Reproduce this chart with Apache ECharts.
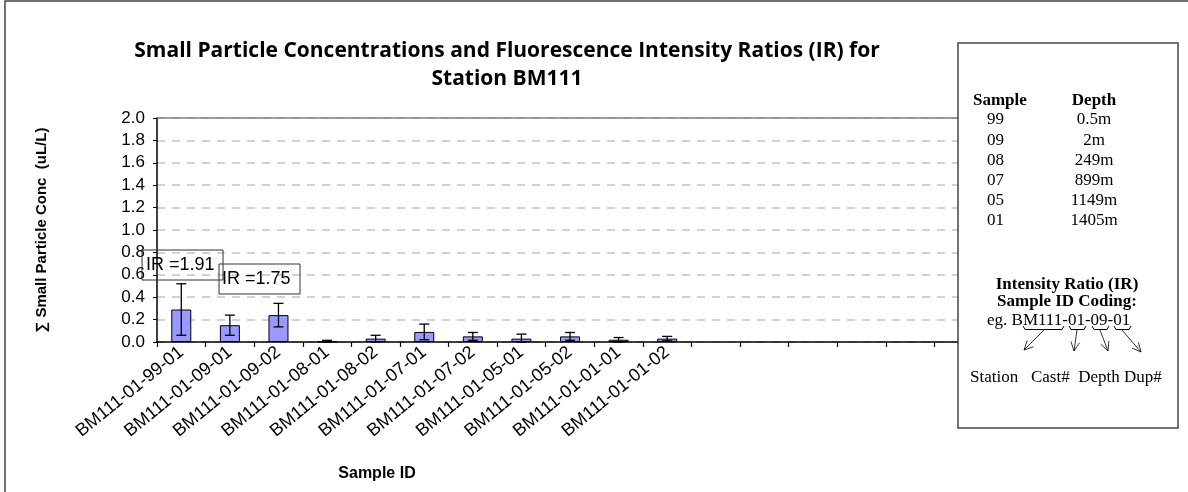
<!DOCTYPE html>
<html><head><meta charset="utf-8">
<script src="https://cdn.jsdelivr.net/npm/echarts@6/dist/echarts.min.js"></script>
<style>html,body{margin:0;padding:0;background:#fff}#c{width:1188px;height:492px}</style>
</head><body><div id="c"></div>
<script>
const categories = ['BM111-01-99-01','BM111-01-09-01','BM111-01-09-02','BM111-01-08-01','BM111-01-08-02','BM111-01-07-01','BM111-01-07-02','BM111-01-05-01','BM111-01-05-02','BM111-01-01-01','BM111-01-01-02','','','','','',''];
const concValues = [0.29, 0.15, 0.24, 0.005, 0.03, 0.09, 0.05, 0.03, 0.05, 0.02, 0.03];
const errValues  = [0.23, 0.09, 0.105, 0.01, 0.03, 0.07, 0.035, 0.04, 0.035, 0.02, 0.02];
const yMin = 0, yMax = 2.0, yStep = 0.2;
const irLabels = ['IR =1.91', 'IR =1.75'];
const sampleCodes = ['99','09','08','07','05','01'];
const sampleDepths = ['0.5m','2m','249m','899m','1149m','1405m'];
const titleLines = ['Small Particle Concentrations and Fluorescence Intensity Ratios (IR) for', 'Station BM111'];
const yName = '\u2211 Small Particle Conc  (uL/L)';
const xName = 'Sample ID';

const errData = concValues.map((v, i) => [i, Math.max(0, v - errValues[i]), v + errValues[i]]);

const chart = echarts.init(document.getElementById('c'), null, {renderer: 'canvas'});
const SANS = '"Liberation Sans", Arial, sans-serif';
const SERIF = '"Liberation Serif", "Times New Roman", serif';
const PZ = 200;

const rowY = [120, 140.5, 160.5, 180.5, 200.5, 220.5];
const panelChildren = [
  {type:'rect', z:PZ, shape:{x:958, y:43, width:220, height:385}, style:{fill:'#fff', stroke:'#444', lineWidth:1.5}},
  {type:'text', z:PZ+1, x:973, y:101, style:{text:'Sample', font:'bold 17px '+SERIF, fill:'#000', textVerticalAlign:'middle'}},
  {type:'text', z:PZ+1, x:1094, y:101, style:{text:'Depth', font:'bold 17px '+SERIF, fill:'#000', textAlign:'center', textVerticalAlign:'middle'}}
];
sampleCodes.forEach((s, i) => {
  panelChildren.push({type:'text', z:PZ+1, x:987, y:rowY[i], style:{text:s, font:'17px '+SERIF, fill:'#000', textVerticalAlign:'middle'}});
  panelChildren.push({type:'text', z:PZ+1, x:1094, y:rowY[i], style:{text:sampleDepths[i], font:'17px '+SERIF, fill:'#000', textAlign:'center', textVerticalAlign:'middle'}});
});
panelChildren.push(
  {type:'text', z:PZ+1, x:1067, y:285, style:{text:'Intensity Ratio (IR)', font:'bold 17px '+SERIF, fill:'#000', textAlign:'center', textVerticalAlign:'middle'}},
  {type:'text', z:PZ+1, x:1067, y:302, style:{text:'Sample ID Coding:', font:'bold 17px '+SERIF, fill:'#000', textAlign:'center', textVerticalAlign:'middle'}},
  {type:'text', z:PZ+1, x:987, y:321, style:{text:'eg. BM111-01-09-01', font:'17px '+SERIF, fill:'#000', textVerticalAlign:'middle'}},
  {type:'text', z:PZ+1, x:970, y:378, style:{text:'Station   Cast#  Depth Dup#', font:'17px '+SERIF, fill:'#000', textVerticalAlign:'middle'}}
);
const braces = [[1023,1064],[1069,1086],[1092,1109],[1114,1131]];
braces.forEach(b => {
  panelChildren.push({type:'polyline', z:PZ+1, shape:{points:[[b[0],326],[b[0]+2,329.5],[b[1]-2,329.5],[b[1],326]]}, style:{stroke:'#000', lineWidth:1, fill:null}});
});
const arrows = [[[1044,330],[1024,350]], [[1077,330],[1074,351]], [[1100,330],[1108,351]], [[1122,330],[1141,352]]];
arrows.forEach(a => {
  const [A, B] = a;
  const ang = Math.atan2(B[1]-A[1], B[0]-A[0]);
  const L = 10, s = 0.45;
  const h1 = [B[0] - L*Math.cos(ang - s), B[1] - L*Math.sin(ang - s)];
  const h2 = [B[0] - L*Math.cos(ang + s), B[1] - L*Math.sin(ang + s)];
  panelChildren.push({type:'polyline', z:PZ+1, shape:{points:[A, B]}, style:{stroke:'#000', lineWidth:0.8, fill:null}});
  panelChildren.push({type:'polyline', z:PZ+1, shape:{points:[h1, B, h2]}, style:{stroke:'#000', lineWidth:0.8, fill:null}});
});

const option = {
  animation: false,
  backgroundColor: '#fff',
  title: [{
    text: titleLines.join('\n'),
    left: 502, top: 32, textAlign: 'center',
    textStyle: {fontFamily: '"Open Sans", sans-serif', fontWeight: 'bold', fontSize: 21, color: '#000', lineHeight: 28}
  }, {
    text: xName, left: 372, top: 461, textAlign: 'center',
    textStyle: {fontFamily: SANS, fontWeight: 'bold', fontSize: 16, color: '#000'}
  }],
  grid: {left: 157, top: 118, width: 826, height: 224, containLabel: false},
  xAxis: [{
    type: 'category', data: categories, position: 'bottom',
    axisLine: {lineStyle: {color: '#000', width: 1.5}},
    axisTick: {show: true, interval: 0, length: 5, lineStyle: {color: '#000', width: 1.2}},
    axisLabel: {interval: 0, rotate: 39, margin: 8, fontFamily: SANS, fontSize: 18, color: '#000'},
    splitLine: {show: false}
  }, {
    type: 'category', data: categories, position: 'top',
    axisLine: {show: true, lineStyle: {color: '#808080', width: 1.5}},
    axisTick: {show: false}, axisLabel: {show: false}, splitLine: {show: false}
  }],
  yAxis: {
    type: 'value', min: yMin, max: yMax, interval: yStep,
    name: yName, nameLocation: 'middle', nameGap: 108, nameRotate: 90,
    nameTextStyle: {fontFamily: SANS, fontWeight: 'bold', fontSize: 15, color: '#000'},
    axisLine: {show: true, lineStyle: {color: '#000', width: 1.5}},
    axisTick: {show: true, length: 4, lineStyle: {color: '#000'}},
    axisLabel: {formatter: v => v.toFixed(1), fontFamily: SANS, fontSize: 17, color: '#000', margin: 12},
    splitLine: {show: true, lineStyle: {color: '#c4c4c4', type: [8, 7], width: 1.5}}
  },
  series: [{
    type: 'bar', data: concValues, barWidth: 20, xAxisIndex: 0,
    itemStyle: {color: '#9999ff', borderColor: '#000', borderWidth: 1}, z: 2
  }, {
    type: 'custom', xAxisIndex: 0, data: errData, z: 3,
    renderItem: function (params, api) {
      const x = api.value(0);
      const lo = api.coord([x, api.value(1)]);
      const hi = api.coord([x, api.value(2)]);
      const w = 5;
      const st = {stroke: '#000', lineWidth: 1.3};
      return {type: 'group', children: [
        {type: 'line', shape: {x1: lo[0], y1: lo[1], x2: hi[0], y2: hi[1]}, style: st},
        {type: 'line', shape: {x1: hi[0]-w, y1: hi[1], x2: hi[0]+w, y2: hi[1]}, style: st},
        {type: 'line', shape: {x1: lo[0]-w, y1: lo[1], x2: lo[0]+w, y2: lo[1]}, style: st}
      ]};
    }
  }],
  graphic: [
    {type: 'rect', z: 100, shape: {x: 5, y: 1, width: 1200, height: 520}, style: {fill: null, stroke: '#444', lineWidth: 1.5}},
    {type: 'rect', z: 100, shape: {x: 142, y: 250, width: 81, height: 30}, style: {fill: 'rgba(255,255,255,0)', stroke: '#333', lineWidth: 1}},
    {type: 'text', z: 101, x: 146, y: 265, style: {text: irLabels[0], font: '18px '+SANS, fill: '#000', textVerticalAlign: 'middle'}},
    {type: 'rect', z: 100, shape: {x: 219, y: 264, width: 81, height: 30}, style: {fill: 'rgba(255,255,255,0)', stroke: '#333', lineWidth: 1}},
    {type: 'text', z: 101, x: 222, y: 279, style: {text: irLabels[1], font: '18px '+SANS, fill: '#000', textVerticalAlign: 'middle'}},
    {type: 'group', z: PZ, children: panelChildren}
  ]
};
chart.setOption(option);
</script>
</body></html>
